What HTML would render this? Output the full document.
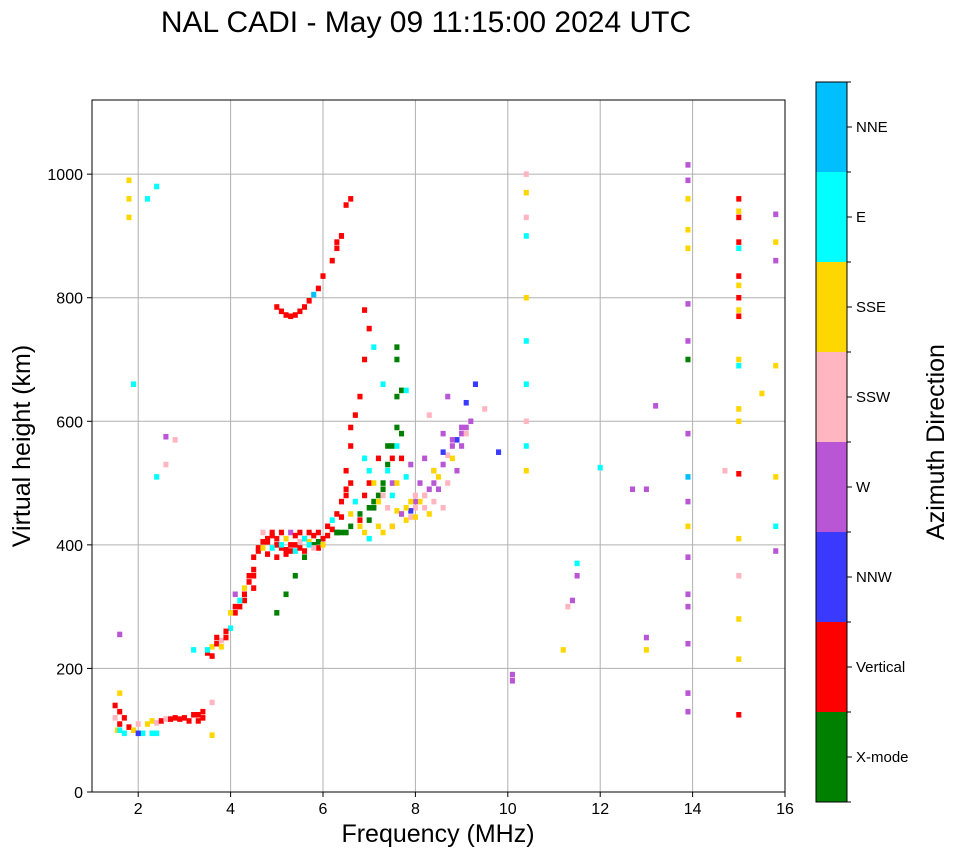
<!DOCTYPE html>
<html><head><meta charset="utf-8"><style>
body{margin:0;background:#fff;font-family:"Liberation Sans",sans-serif}
</style></head><body>
<svg id="chart" width="958" height="857" xmlns="http://www.w3.org/2000/svg" font-family="Liberation Sans, sans-serif">
<rect width="958" height="857" fill="#fff"/>
<text x="426" y="32" font-size="30" text-anchor="middle">NAL CADI - May 09 11:15:00 2024 UTC</text>
<g id="grid"></g>
<g id="marks"></g>
<rect x="92" y="100" width="693" height="692" fill="none" stroke="#000" stroke-width="1"/>
<g id="axes"></g>
<text x="438" y="842" font-size="25" text-anchor="middle">Frequency (MHz)</text>
<text transform="translate(30,446) rotate(-90)" font-size="25" text-anchor="middle">Virtual height (km)</text>
<g id="colorbar"></g>
<text transform="translate(944,442) rotate(-90)" font-size="25" text-anchor="middle">Azimuth Direction</text>
</svg>
<script>
const xTicks=[2,4,6,8,10,12,14,16];
const yTicks=[0,200,400,600,800,1000];
const dirNames=["X-mode","Vertical","NNW","W","SSW","SSE","E","NNE"];
const dirColors=["#008000","#ff0000","#3a3aff","#b956d6","#ffb6c1","#ffd700","#00ffff","#00bfff"];
const freqs=[1.5,1.5,1.55,1.6,1.6,1.7,1.8,1.9,2.0,2.1,2.2,2.3,2.3,2.4,2.5,2.6,2.7,2.8,2.9,3.0,3.1,3.2,3.3,3.4,3.6,3.6,
3.5,3.6,3.7,3.8,3.9,4.0,4.1,4.1,4.2,4.3,4.3,4.4,4.5,4.5,4.6,4.7,4.7,4.8,4.9,5.0,5.1,5.2,5.3,5.4,5.5,5.6,5.7,5.8,5.9,6.0,6.1,6.2,6.3,6.4,6.5,6.5,6.6,6.6,6.7,6.8,
5.0,5.1,5.2,5.3,5.4,5.5,5.6,5.7,5.8,5.9,6.0,6.2,6.3,6.4,6.5,
5.0,5.2,5.4,5.6,5.8,6.3,6.6,6.8,7.0,7.1,7.2,7.3,7.4,7.5,7.6,7.6,7.6,7.7,7.6,
6.8,6.9,7.0,7.0,6.9,7.1,7.2,7.3,7.4,7.5,7.6,7.7,7.8,7.9,8.0,8.1,8.2,8.3,8.4,8.5,8.6,8.7,8.8,8.9,9.0,9.1,9.2,
7.5,7.7,7.9,8.0,8.2,8.4,8.6,8.8,9.0,9.1,8.3,8.7,9.3,9.5,9.8,
6.9,6.9,7.0,7.1,7.3,7.5,7.6,7.8,
10.4,10.4,10.4,10.4,10.4,10.4,10.4,10.4,10.4,10.4,10.1,10.1,11.2,11.3,11.4,11.5,11.5,12.0,12.7,13.0,13.0,13.0,13.2,
13.9,13.9,13.9,13.9,13.9,13.9,13.9,13.9,13.9,13.9,13.9,13.9,13.9,13.9,13.9,13.9,13.9,13.9,
15.0,15.0,15.0,15.0,15.0,15.0,15.0,15.0,15.0,15.0,15.0,15.0,15.0,15.0,15.0,15.0,15.0,15.0,15.0,15.0,
15.8,15.8,15.8,15.8,15.8,15.8,15.8,14.7,15.5,
1.8,1.8,1.8,2.2,2.4,2.4,2.6,2.6,1.9,1.6,2.8,3.2,
4.6,4.7,4.8,4.8,4.9,4.9,5.0,5.0,5.1,5.1,5.2,5.2,5.3,5.3,5.4,5.4,5.5,5.5,5.6,5.6,5.7,5.7,5.8,5.8,5.9,5.9,6.0,6.1,6.2,6.3,6.4,6.5,6.4,6.5,6.6,6.6,6.7,6.8,6.9,7.0,7.0,7.1,7.1,7.2,7.2,7.3,7.3,7.4,7.4,7.5,7.5,7.6,7.7,7.7,7.8,7.8,7.9,7.9,8.0,8.0,8.1,8.2,8.2,8.3,8.4,8.4,8.5,8.6,8.6,8.7,8.8,8.9,9.0,9.1,
1.6,1.6,1.7,2.0,2.4,3.3,3.4,3.5,3.6,3.7,3.8,3.9,4.0,4.1,4.2,4.3,4.4,4.5,4.5,6.4,6.6,6.3];
const heights=[140,120,100,160,110,95,105,100,110,95,110,115,95,112,115,118,118,120,118,120,115,125,125,120,92,145,
225,235,240,245,250,265,290,320,300,310,330,340,350,380,395,405,420,410,415,400,395,392,390,400,405,410,405,400,395,410,415,425,450,470,490,520,560,590,610,640,
785,778,772,770,772,778,785,795,805,815,835,860,880,900,950,
290,320,350,380,400,420,430,450,460,470,480,500,530,560,590,640,700,650,720,
430,420,410,500,540,460,470,480,520,500,455,450,440,445,460,470,480,490,500,510,530,545,560,570,580,590,600,
430,450,455,470,480,520,550,570,590,630,610,640,660,620,550,
700,780,750,720,660,540,560,650,
1000,970,930,900,800,730,660,600,560,520,190,180,230,300,310,350,370,525,490,490,250,230,625,
1015,990,960,910,880,790,730,700,580,510,470,430,380,320,300,240,160,130,
960,940,930,890,880,835,820,800,780,770,700,690,620,600,515,410,350,280,215,125,
935,890,860,690,510,430,390,520,645,
990,960,930,960,980,510,530,575,660,255,570,230,
390,395,405,385,420,395,410,380,420,400,410,385,420,400,415,390,420,395,410,390,420,400,415,395,420,405,400,430,440,420,420,420,445,480,500,450,470,440,480,520,440,460,500,430,540,490,420,460,560,480,430,500,540,580,510,460,470,530,480,445,500,460,540,450,470,520,490,460,580,500,540,520,560,580,
130,100,120,95,95,115,130,230,220,250,235,260,290,300,310,320,350,360,330,900,960,890];
const dirs=[1,4,5,5,1,6,1,5,4,6,5,5,6,4,1,4,1,1,1,1,1,1,1,1,5,4,
1,5,1,4,1,6,1,3,1,1,5,1,1,1,1,1,4,1,1,1,1,1,1,1,4,1,5,1,1,1,1,1,1,1,1,1,1,1,1,1,
1,1,1,1,1,1,1,1,7,1,1,1,1,1,1,
0,0,0,0,0,0,0,0,0,0,0,0,0,0,0,0,0,0,0,
5,5,6,1,6,3,5,4,6,3,5,5,5,4,4,5,4,3,3,5,3,4,3,2,3,3,3,
3,3,2,3,4,3,2,3,3,2,4,3,2,4,2,
1,1,1,6,6,1,6,6,
4,5,4,6,5,6,6,4,6,5,3,3,5,4,3,3,6,6,3,3,3,5,3,
3,3,5,5,5,3,3,0,3,7,3,5,3,3,3,3,3,3,
1,5,1,1,6,1,5,1,5,1,5,6,5,5,1,5,4,5,5,1,
3,5,3,5,5,6,3,4,5,
5,5,5,6,6,6,4,3,6,3,4,6,
1,5,1,1,1,6,1,1,1,6,5,1,3,1,1,6,1,1,6,1,1,6,1,4,1,0,5,1,6,0,0,0,1,1,1,5,6,1,1,6,0,0,5,5,1,0,5,4,0,6,5,5,1,0,6,5,5,3,4,5,3,4,3,5,4,5,3,4,3,4,5,3,3,4,
1,6,1,2,6,1,1,6,1,1,5,1,5,1,6,1,1,1,1,1,1,1];
const X0=92,X1=785,Y0=792,Y1=100,FMIN=1,FMAX=16,HMIN=0,HMAX=1120;
const xs=f=>X0+(f-FMIN)/(FMAX-FMIN)*(X1-X0);
const ys=h=>Y0-(h-HMIN)/(HMAX-HMIN)*(Y0-Y1);
const NS="http://www.w3.org/2000/svg";
function mk(t,a,p){const e=document.createElementNS(NS,t);for(const k in a)e.setAttribute(k,a[k]);p.appendChild(e);return e;}
const grid=document.getElementById('grid'),axes=document.getElementById('axes'),marks=document.getElementById('marks'),cb=document.getElementById('colorbar');
xTicks.forEach(t=>{const x=xs(t);
 const g=mk('line',{x1:x,x2:x,y1:Y1,y2:Y0,stroke:'#b0b0b0','stroke-width':1},grid);
 
 
 mk('line',{x1:x,x2:x,y1:Y0,y2:Y0+5,stroke:'#000'},axes);
 const l=mk('text',{x:x,y:Y0+22,'font-size':16,'text-anchor':'middle'},axes);l.textContent=t;
 
 });
yTicks.forEach(t=>{const y=ys(t);
 const g=mk('line',{x1:X0,x2:X1,y1:y,y2:y,stroke:'#b0b0b0','stroke-width':1},grid);
 
 
 mk('line',{x1:X0-5,x2:X0,y1:y,y2:y,stroke:'#000'},axes);
 const l=mk('text',{x:X0-9,y:y+6,'font-size':16,'text-anchor':'end'},axes);l.textContent=t;
 
 });
const CW=0.11,CH=9;
for(let i=0;i<freqs.length;i++){
 const x=xs(freqs[i]-CW/2),w=xs(freqs[i]+CW/2)-x,y=ys(heights[i]+CH/2),h=ys(heights[i]-CH/2)-y;
 const r=mk('rect',{x:x,y:y,width:w,height:h,fill:dirColors[dirs[i]]},marks);
 
 }
const CBX=816,CBY=82,CBW=31,CBH=720,seg=CBH/dirNames.length;
dirNames.forEach((n,i)=>{const y=CBY+CBH-(i+1)*seg;
 const r=mk('rect',{x:CBX,y:y,width:CBW,height:seg,fill:dirColors[i]},cb);
 
 
 mk('line',{x1:CBX+CBW,x2:CBX+CBW+5,y1:y+seg/2,y2:y+seg/2,stroke:'#000'},cb);
 mk('line',{x1:CBX+CBW,x2:CBX+CBW+4,y1:y,y2:y,stroke:'#000'},cb);
 const t=mk('text',{x:CBX+CBW+9,y:y+seg/2+5,'font-size':15},cb);t.textContent=n;
 
 });
mk('line',{x1:CBX+CBW,x2:CBX+CBW+4,y1:CBY+CBH,y2:CBY+CBH,stroke:'#000'},cb);
mk('rect',{x:CBX,y:CBY,width:CBW,height:CBH,fill:'none',stroke:'#000'},cb);
</script>
</body></html>
